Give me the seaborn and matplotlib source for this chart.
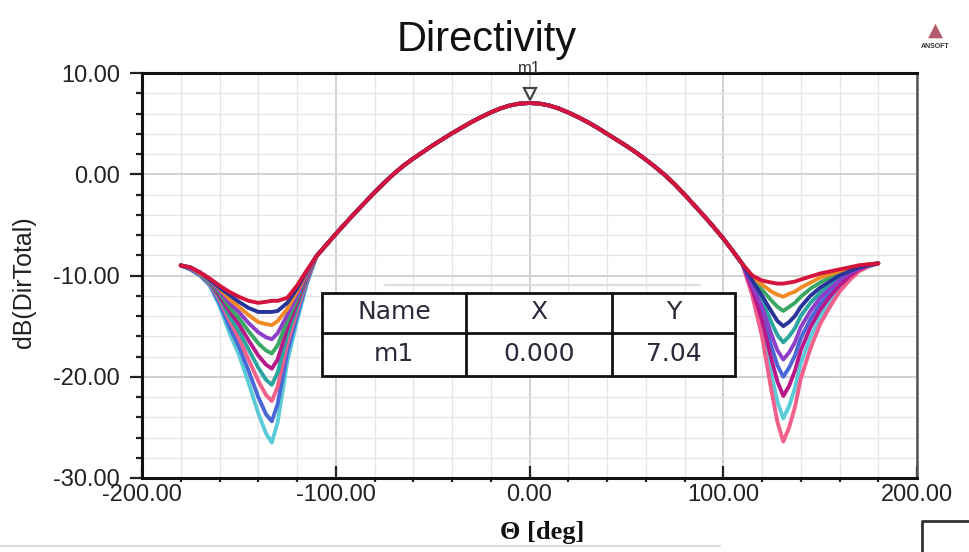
import numpy as np
import pandas as pd
import matplotlib
matplotlib.use("Agg")
import matplotlib.pyplot as plt
import matplotlib.transforms as mtransforms
from matplotlib.ticker import MultipleLocator, FormatStrFormatter
import seaborn as sns

# ---------------- data ----------------
theta_left = [-180, -175, -170, -165, -160, -155, -150, -145, -140, -136, -133, -130, -125, -120, -115]
theta_main = list(range(-110, 115, 5))
theta_right = [115, 120, 125, 128, 131, 134, 137, 140, 145, 150, 155, 160, 165, 170, 175, 180]

main_lobe = [-8.1, -7.0, -5.9, -4.85, -3.8, -2.8, -1.8, -0.85, 0.05, 0.85, 1.55, 2.2, 2.85, 3.45, 4.05,
             4.6, 5.15, 5.65, 6.1, 6.5, 6.8, 6.98, 7.04, 6.98, 6.8, 6.5, 6.1, 5.65, 5.15, 4.6,
             4.0, 3.4, 2.8, 2.15, 1.45, 0.7, -0.1, -1.0, -2.0, -3.05, -4.1, -5.2, -6.35, -7.6, -8.9]

left_A = [-9.0, -9.2, -9.7, -10.3, -11.0, -11.6, -12.1, -12.5, -12.7, -12.6, -12.5, -12.5, -12.2, -11.0, -9.5]
left_B = [-9.0, -9.2, -9.7, -10.4, -11.2, -11.9, -12.6, -13.2, -13.6, -13.6, -13.6, -13.5, -12.7, -11.3, -9.6]
left_C = [-9.0, -9.2, -9.8, -10.4, -11.3, -12.3, -13.1, -13.9, -14.6, -14.8, -14.9, -14.5, -13.3, -11.6, -9.7]
left_D = [-9.0, -9.3, -9.8, -10.5, -11.5, -12.7, -13.6, -14.7, -15.6, -16.1, -16.3, -15.7, -13.9, -12.0, -9.9]
left_E = [-9.0, -9.3, -9.8, -10.6, -11.7, -13.1, -14.2, -15.5, -16.7, -17.4, -17.7, -16.9, -14.5, -12.3, -10.0]
left_F = [-9.0, -9.3, -9.8, -10.6, -12.0, -13.5, -14.8, -16.4, -17.9, -18.8, -19.2, -18.3, -15.2, -12.7, -10.2]
left_G = [-9.0, -9.3, -9.9, -10.7, -12.2, -14.0, -15.5, -17.3, -19.1, -20.3, -20.8, -19.6, -15.9, -13.1, -10.3]
left_H = [-9.0, -9.3, -9.9, -10.8, -12.4, -14.4, -16.2, -18.3, -20.4, -21.8, -22.4, -21.0, -16.7, -13.5, -10.5]
left_I = [-9.0, -9.4, -10.0, -10.9, -12.7, -15.0, -17.0, -19.4, -22.0, -23.7, -24.4, -22.7, -17.6, -14.0, -10.7]
left_J = [-9.0, -9.4, -10.0, -11.0, -13.0, -15.6, -17.8, -20.6, -23.6, -25.6, -26.5, -24.5, -18.5, -14.5, -10.9]

right_A = [-10.0, -10.5, -10.7, -10.8, -10.8, -10.7, -10.6, -10.4, -10.1, -9.8, -9.6, -9.4, -9.2, -9.0, -8.9, -8.8]
right_C = [-10.2, -10.9, -11.6, -11.9, -12.1, -11.8, -11.6, -11.2, -10.7, -10.2, -9.9, -9.6, -9.3, -9.0, -8.9, -8.8]
right_E = [-10.3, -11.4, -12.5, -13.1, -13.5, -13.1, -12.7, -12.1, -11.3, -10.7, -10.2, -9.8, -9.4, -9.1, -8.9, -8.8]
right_B = [-10.5, -12.0, -13.6, -14.5, -15.0, -14.6, -14.0, -13.1, -12.0, -11.2, -10.6, -10.0, -9.6, -9.2, -9.0, -8.8]
right_G = [-10.7, -12.5, -14.7, -15.9, -16.6, -16.0, -15.2, -14.0, -12.7, -11.7, -10.9, -10.2, -9.7, -9.2, -9.0, -8.8]
right_D = [-11.0, -13.1, -15.9, -17.4, -18.3, -17.6, -16.6, -15.1, -13.5, -12.2, -11.3, -10.5, -9.8, -9.3, -9.0, -8.8]
right_I = [-11.2, -13.8, -17.1, -18.9, -20.0, -19.1, -17.9, -16.2, -14.3, -12.8, -11.7, -10.7, -10.0, -9.4, -9.0, -8.8]
right_F = [-11.4, -14.4, -18.4, -20.5, -21.9, -20.9, -19.4, -17.4, -15.1, -13.4, -12.1, -11.0, -10.1, -9.4, -9.0, -8.8]
right_J = [-11.7, -15.2, -19.9, -22.5, -24.1, -22.9, -21.1, -18.7, -16.1, -14.1, -12.6, -11.3, -10.3, -9.5, -9.1, -8.8]
right_H = [-12.0, -16.0, -21.5, -24.5, -26.4, -25.0, -23.0, -20.2, -17.2, -14.8, -13.1, -11.6, -10.5, -9.6, -9.1, -8.8]

curve_names = ["J", "I", "H", "G", "F", "E", "D", "C", "B", "A"]
curve_colors = ["#5ccbd8", "#4a67d6", "#f0608a", "#2aa6a0", "#b8198a",
                "#3aa864", "#8e3fc9", "#f08a24", "#27349a", "#d4143c"]

marker_name = "m1"
marker_x = 0.0
marker_y = 7.04

x_ticks = [-200, -100, 0, 100, 200]
y_ticks = [-30, -20, -10, 0, 10]

# ---------------- assemble ----------------
left_tails = {"A": left_A, "B": left_B, "C": left_C, "D": left_D, "E": left_E,
              "F": left_F, "G": left_G, "H": left_H, "I": left_I, "J": left_J}
right_tails = {"A": right_A, "B": right_B, "C": right_C, "D": right_D, "E": right_E,
               "F": right_F, "G": right_G, "H": right_H, "I": right_I, "J": right_J}

rows = []
theta_all = theta_left + theta_main + theta_right
for name in curve_names:
    vals = left_tails[name] + main_lobe + right_tails[name]
    for t, v in zip(theta_all, vals):
        rows.append((name, t, v))
df = pd.DataFrame(rows, columns=["curve", "theta", "dB"])

# ---------------- figure ----------------
sns.set_theme(style="white")
plt.rcParams["font.family"] = ["Liberation Sans", "DejaVu Sans"]

W, H = 969, 552
fig = plt.figure(figsize=(W / 100, H / 100), dpi=100)
ax = fig.add_axes([142 / W, 1 - 478 / H, (917 - 142) / W, (478 - 73) / H])
ax.set_facecolor("white")

sns.lineplot(data=df, x="theta", y="dB", hue="curve", hue_order=curve_names,
             palette=dict(zip(curve_names, curve_colors)), estimator=None, sort=False,
             linewidth=2.8, legend=False, ax=ax, zorder=3)

ax.set_xlim(-200, 200)
ax.set_ylim(-30, 10)
ax.set_xticks(x_ticks)
ax.set_yticks(y_ticks)
ax.xaxis.set_major_formatter(FormatStrFormatter("%.2f"))
ax.yaxis.set_major_formatter(FormatStrFormatter("%.2f"))
ax.xaxis.set_minor_locator(MultipleLocator(20))
ax.yaxis.set_minor_locator(MultipleLocator(2))

ax.grid(which="minor", color="#e6e6e6", linewidth=1.0, zorder=0)
ax.grid(which="major", color="#d2d2d2", linewidth=1.4, zorder=0)
ax.set_axisbelow(True)

ax.tick_params(axis="y", which="major", direction="out", length=9, width=1.6,
               pad=7, labelsize=17, colors="#222222")
ax.tick_params(axis="y", which="minor", direction="out", length=4, width=1.6, colors="#222222")
ax.tick_params(axis="x", which="major", direction="in", length=9, width=1.6,
               pad=4, labelsize=17, colors="#222222")
ax.tick_params(axis="x", which="minor", direction="out", length=3, width=1.6, colors="#222222")
ax.xaxis.set_ticks_position("bottom")
ax.yaxis.set_ticks_position("left")

for side in ["left", "bottom", "top"]:
    ax.spines[side].set_color("#111111")
    ax.spines[side].set_linewidth(2.2)
ax.spines["right"].set_color("#555555")
ax.spines["right"].set_linewidth(1.8)

ax.set_xlabel("")
ax.set_ylabel("")

# title and axis labels
fig.text(487 / W, 1 - 40 / H, "Directivity", ha="center", va="center",
         fontsize=30, color="#111111")
fig.text(24 / W, 1 - 282 / H, "dB(DirTotal)", rotation=90, ha="center", va="center",
         fontsize=18, color="#222222")
fig.text(542 / W, 1 - 532 / H, "Θ [deg]", ha="center", va="center", fontsize=19,
         fontweight="bold", family=["Liberation Serif", "DejaVu Serif"], color="#111111")

# marker m1
off = mtransforms.offset_copy(ax.transData, fig=fig, x=0, y=9, units="dots")
ax.plot([marker_x], [marker_y], marker="v", markersize=9, markerfacecolor="white",
        markeredgecolor="#444444", markeredgewidth=1.6, transform=off, zorder=5,
        clip_on=False, linestyle="none")
off2 = mtransforms.offset_copy(ax.transData, fig=fig, x=0, y=34, units="dots")
ax.text(marker_x, marker_y, marker_name, transform=off2, ha="center", va="center",
        fontsize=12, color="#333333", zorder=6, clip_on=False)

# marker table
tx0, tx1, ty0, ty1 = 322 / W, 735 / W, 1 - 376 / H, 1 - 293 / H
c1, c2 = 466 / W, 612 / W
rmid = 1 - 333 / H
fig.add_artist(plt.Line2D([385 / W, 700 / W], [1 - 285 / H, 1 - 285 / H],
                          color="#dddddd", linewidth=1.5))
fig.add_artist(plt.Rectangle((tx0, ty0), tx1 - tx0, ty1 - ty0, facecolor="white",
                             edgecolor="#111111", linewidth=2.0, zorder=10))
for cx in (c1, c2):
    fig.add_artist(plt.Line2D([cx, cx], [ty0, ty1], color="#111111", linewidth=2.0, zorder=11))
fig.add_artist(plt.Line2D([tx0, tx1], [rmid, rmid], color="#111111", linewidth=2.0, zorder=11))

table_header = ["Name", "X", "Y"]
table_row = [marker_name, f"{marker_x:.3f}", f"{marker_y:.2f}"]
col_centers = [(tx0 + c1) / 2, (c1 + c2) / 2, (c2 + tx1) / 2]
for cx, h, r in zip(col_centers, table_header, table_row):
    fig.text(cx, 1 - 312 / H, h, ha="center", va="center", fontsize=18,
             family="DejaVu Sans", color="#2a2a3a", zorder=12)
    fig.text(cx, 1 - 354 / H, r, ha="center", va="center", fontsize=18,
             family="DejaVu Sans", color="#2a2a3a", zorder=12)

# ANSOFT logo
fig.text(935 / W, 1 - 30 / H, "▲", ha="center", va="center", fontsize=14,
         color="#b55a6a", family="DejaVu Sans")
fig.text(935 / W, 1 - 47 / H, "ANSOFT", ha="center", va="center", fontsize=5,
         fontweight="bold", color="#333333")

# decorative frame pieces at the bottom
fig.add_artist(plt.Line2D([922 / W, 922 / W, 1.0], [0.0, 1 - 521 / H, 1 - 521 / H],
                          color="#333333", linewidth=2.0))
fig.add_artist(plt.Line2D([0.0, 720 / W], [1 - 546 / H, 1 - 546 / H],
                          color="#dddddd", linewidth=1.5))

fig.savefig("out.png", dpi=100, facecolor="white")
